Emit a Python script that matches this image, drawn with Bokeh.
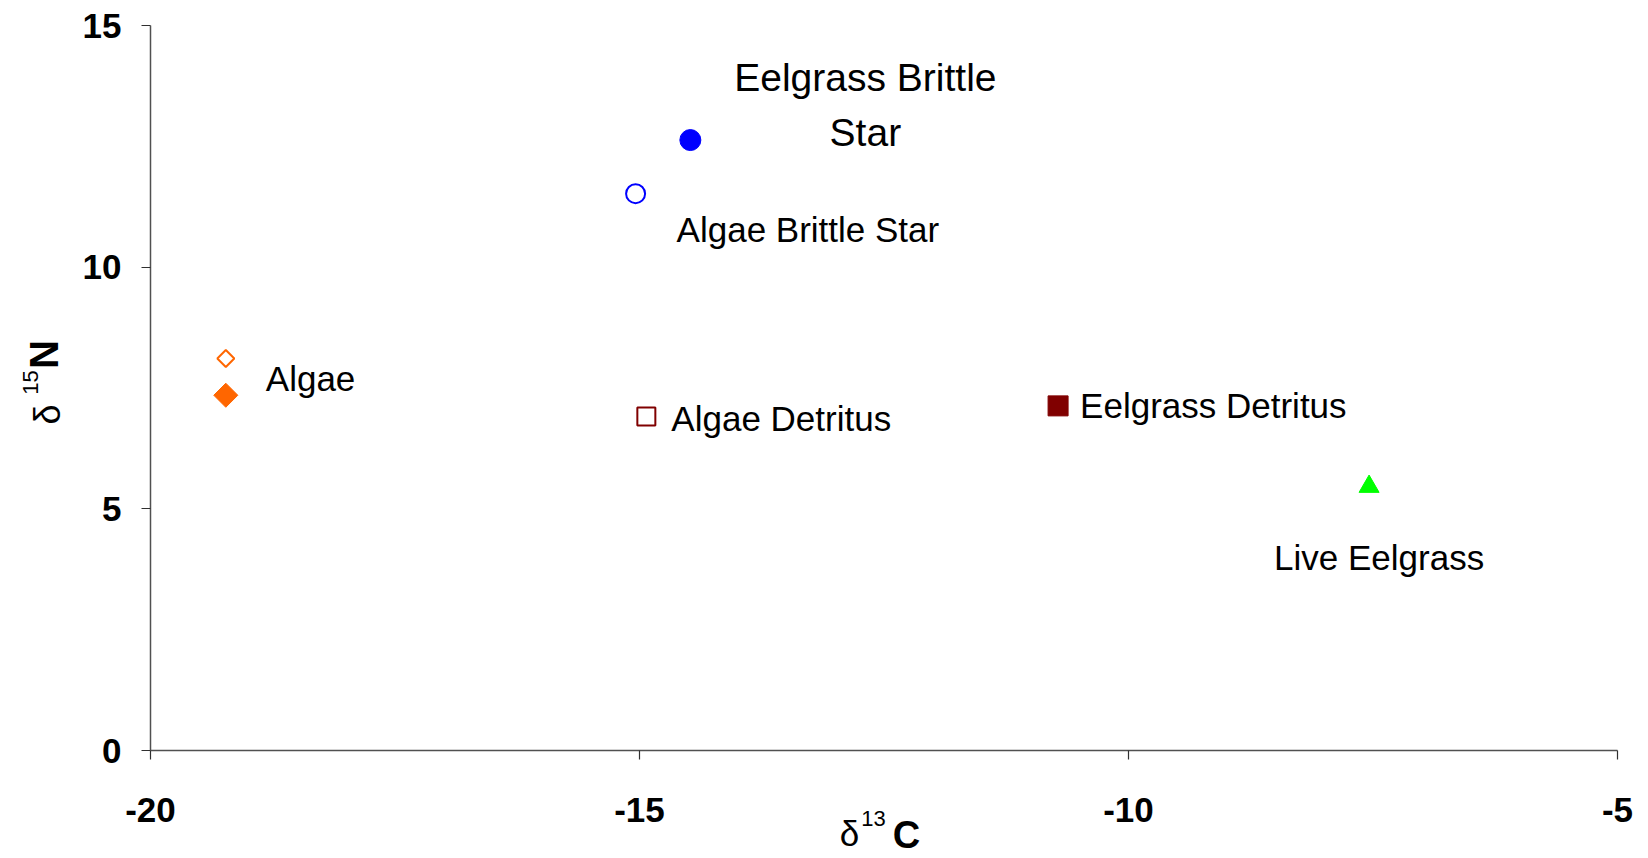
import math
from bokeh.plotting import figure
from bokeh.models import Range1d, FixedTicker, Label, ColumnDataSource
from bokeh.embed import file_html
from bokeh.resources import INLINE

# ---- data ----
series = ["Algae (open)", "Algae (filled)", "Algae Brittle Star", "Eelgrass Brittle Star",
          "Algae Detritus", "Eelgrass Detritus", "Live Eelgrass"]
d13C = [-19.23, -19.23, -15.04, -14.48, -14.93, -10.72, -7.54]
d15N = [8.11, 7.35, 11.52, 12.63, 6.91, 7.13, 5.46]
x_ticks = [-20, -15, -10, -5]
x_tick_labels = ["-20", "-15", "-10", "-5"]
y_ticks = [0, 5, 10, 15]
y_tick_labels = ["0", "5", "10", "15"]

# ---- styles ----
ORANGE, BLUE, DRED, GREEN = "#FF6600", "#0000FF", "#800000", "#00FF00"
styles = [
    dict(marker="square", size=12, angle=math.pi / 4, fill_color="white", line_color=ORANGE, line_width=2),
    dict(marker="square", size=17, angle=math.pi / 4, fill_color=ORANGE, line_color=ORANGE, line_width=1),
    dict(marker="circle", size=19, angle=0, fill_color="white", line_color=BLUE, line_width=2),
    dict(marker="circle", size=21, angle=0, fill_color=BLUE, line_color=BLUE, line_width=1),
    dict(marker="square", size=18, angle=0, fill_color="white", line_color=DRED, line_width=2),
    dict(marker="square", size=20, angle=0, fill_color=DRED, line_color=DRED, line_width=1),
    dict(marker="triangle", size=20, angle=0, fill_color=GREEN, line_color=GREEN, line_width=1),
]
FONT = "Liberation Sans"

# ---- layout: canvas pixel positions of the axis ends ----
W, H = 1648, 858
XL_PX, XR_PX = 150.0, 1617.0   # x = -20 and x = -5
YT_PX, YB_PX = 25.0, 750.0     # y = 15 and y = 0
sx = (XR_PX - XL_PX) / (x_ticks[-1] - x_ticks[0])
sy = (YB_PX - YT_PX) / (y_ticks[-1] - y_ticks[0])
x_start = x_ticks[0] - XL_PX / sx
x_end = x_ticks[0] + (W - XL_PX) / sx
y_end = y_ticks[-1] + YT_PX / sy
y_start = y_ticks[0] - (H - YB_PX) / sy

p = figure(width=W, height=H, x_range=Range1d(x_start, x_end), y_range=Range1d(y_start, y_end),
           output_backend="svg", toolbar_location=None,
           min_border_left=0, min_border_right=0, min_border_top=0, min_border_bottom=0)
p.grid.visible = False
p.outline_line_color = None
p.background_fill_color = "white"
p.border_fill_color = "white"

p.xaxis.fixed_location = y_ticks[0]
p.yaxis.fixed_location = x_ticks[0]
p.xaxis.bounds = (x_ticks[0], x_ticks[-1])
p.yaxis.bounds = (y_ticks[0], y_ticks[-1])
p.xaxis.major_label_overrides = dict(zip(x_ticks, x_tick_labels))
p.yaxis.major_label_overrides = dict(zip(y_ticks, y_tick_labels))

for ax, ticks in ((p.xaxis, x_ticks), (p.yaxis, y_ticks)):
    ax.ticker = FixedTicker(ticks=ticks)
    ax.minor_tick_line_color = None
    ax.major_tick_in = 0
    ax.major_tick_out = 9
    ax.axis_line_color = "#505050"
    ax.axis_line_width = 1.5
    ax.major_tick_line_color = "#303030"
    ax.major_tick_line_width = 1.2
    ax.major_label_text_font = FONT
    ax.major_label_text_font_style = "bold"
    ax.major_label_text_font_size = "35px"
    ax.major_label_text_color = "black"
p.xaxis.major_label_standoff = 38
p.yaxis.major_label_standoff = 20

for i in range(len(series)):
    src = ColumnDataSource(dict(x=[d13C[i]], y=[d15N[i]]))
    p.scatter("x", "y", source=src, **styles[i])

# ---- point labels (anchored on the points, offset in pixels) ----
labels = [
    ("Algae", 1, 40, 17, "left", "35px"),
    ("Algae Brittle Star", 2, 41, -36, "left", "35px"),
    ("Eelgrass Brittle", 3, 175, 63, "center", "39px"),
    ("Star", 3, 175, 8, "center", "39px"),
    ("Algae Detritus", 4, 25, -2, "left", "35px"),
    ("Eelgrass Detritus", 5, 22, 0, "left", "35px"),
    ("Live Eelgrass", 6, -95, -71, "left", "35px"),
]
for txt, idx, dx, dy, align, fs in labels:
    p.add_layout(Label(x=d13C[idx], y=d15N[idx], x_offset=dx, y_offset=dy, text=txt,
                       text_font=FONT, text_font_size=fs, text_color="black",
                       text_align=align, text_baseline="middle"))

# ---- axis titles (δ ¹³C, δ ¹⁵N), placed in canvas pixels ----
def add(txt, px, py, size, style="normal", angle=0.0):
    p.add_layout(Label(x=x_start + px / sx, y=y_end - py / sy, text=txt, text_font=FONT,
                       text_font_size=size, text_font_style=style, text_align="center",
                       text_baseline="middle", angle=angle, text_color="black"))

add("δ", 849, 833, "35px")
add("13", 873, 818, "22px")
add("C", 906, 834, "38px", "bold")

add("δ", 47, 414, "36px", angle=math.pi / 2)
add("15", 29.5, 382, "22px", angle=math.pi / 2)
add("N", 43.6, 354, "40px", "bold", angle=math.pi / 2)

open("out.html", "w").write(file_html(p, INLINE))
